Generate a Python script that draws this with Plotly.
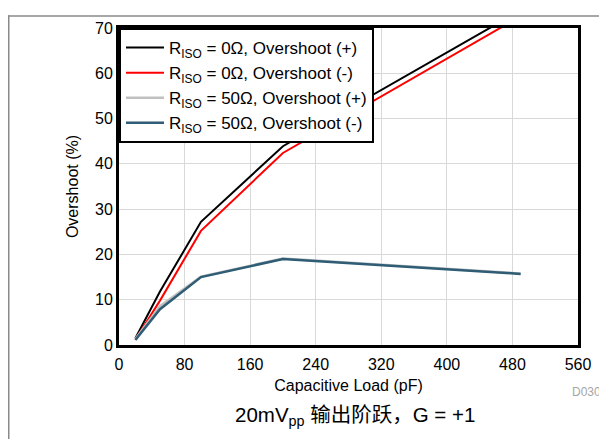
import plotly.graph_objects as go

cap_pf = [20, 50, 100, 200, 490]
r0_pos = [1.5, 11.8, 27.2, 43.9, 73.9]
r0_neg = [1.2, 9.8, 25.2, 42.4, 72.6]
r50_pos = [1.3, 8.6, 15.1, 19.1, 15.8]
r50_neg = [1.1, 7.9, 15.0, 19.0, 15.7]

x_ticks = [0, 80, 160, 240, 320, 400, 480, 560]
y_ticks = [0, 10, 20, 30, 40, 50, 60, 70]

names = [
    "R<sub>ISO</sub> = 0Ω, Overshoot (+)",
    "R<sub>ISO</sub> = 0Ω, Overshoot (-)",
    "R<sub>ISO</sub> = 50Ω, Overshoot (+)",
    "R<sub>ISO</sub> = 50Ω, Overshoot (-)",
]
colors = ["#000000", "#ff0000", "#c0c0c0", "#2e5d75"]
widths = [2, 2, 2.5, 2.5]
series = [r0_pos, r0_neg, r50_pos, r50_neg]

OFF = 8  # page body margin
W, H = 607 - OFF, 441 - OFF
L, R, T, B = 119 - OFF, 29, 21 - OFF, 96
pw, ph = W - L - R, H - T - B

fig = go.Figure()
for nm, ys, c, w in zip(names, series, colors, widths):
    fig.add_trace(go.Scatter(x=cap_pf, y=ys, mode="lines", name=nm,
                             line=dict(color=c, width=w)))

font = "Liberation Sans, Arial, sans-serif"
axis_common = dict(showline=True, mirror=True, linecolor="black", linewidth=3,
                   showgrid=True, gridcolor="#d9d9d9", gridwidth=1,
                   zeroline=False, ticks="", tickfont=dict(size=16, color="black"))

fig.update_layout(
    width=W, height=H, margin=dict(l=L, r=R, t=T, b=B),
    paper_bgcolor="white", plot_bgcolor="white",
    font=dict(family=font, color="black"),
    xaxis=dict(range=[0, 560], tickvals=x_ticks, ticklabelstandoff=3, **axis_common,
               title=dict(text="Capacitive Load (pF)", font=dict(size=16), standoff=8)),
    yaxis=dict(range=[0, 70], tickvals=y_ticks, **axis_common,
               title=dict(text="Overshoot (%)", font=dict(size=16), standoff=13)),
    legend=dict(x=0, y=1, xanchor="left", yanchor="top", bgcolor="white",
                bordercolor="black", borderwidth=2, font=dict(size=17),
                itemwidth=38, tracegroupgap=0),
    showlegend=True,
)

def px_x(p):
    return (p - OFF - L) / pw

def px_y(p):
    return (H - B - (p - OFF)) / ph

fig.add_annotation(text="D030", xref="paper", yref="paper", x=px_x(603), y=px_y(393),
                   xanchor="right", yanchor="middle", showarrow=False,
                   font=dict(size=12, color="#a6a6a6"))
fig.add_annotation(text="20mV<sub>pp</sub> 输出阶跃，G = +1", xref="paper", yref="paper",
                   x=px_x(355), y=px_y(418), xanchor="center", yanchor="middle",
                   showarrow=False,
                   font=dict(size=20.5, color="black",
                             family="Liberation Sans, Noto Sans CJK SC, sans-serif"))
fig.add_shape(type="line", xref="paper", yref="paper", x0=px_x(OFF), x1=px_x(607),
              y0=px_y(OFF + 0.75), y1=px_y(OFF + 0.75), line=dict(color="#8a8a8a", width=1.5))
fig.add_shape(type="line", xref="paper", yref="paper", x0=px_x(OFF + 0.75), x1=px_x(OFF + 0.75),
              y0=px_y(OFF), y1=px_y(441), line=dict(color="#8a8a8a", width=1.5))

fig.write_html("out.html")
